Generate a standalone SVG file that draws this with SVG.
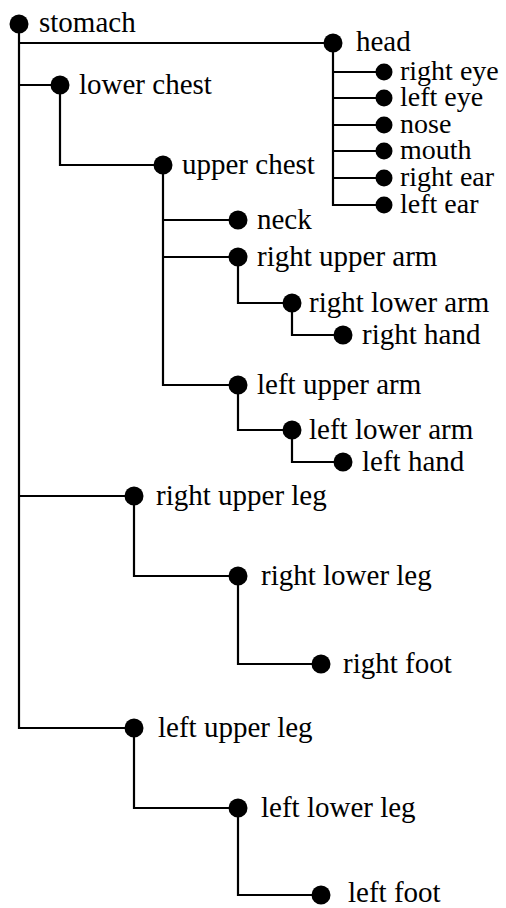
<svg xmlns="http://www.w3.org/2000/svg" width="506" height="908" viewBox="0 0 506 908">
<style>
.e{fill:none;stroke:#000;stroke-width:2.2}
.d{fill:#000}
</style>
<rect width="506" height="908" fill="#fff"/>
<g id="connectors">
<path class="e" d="M19,24 V728 H134"/>
<path class="e" d="M19,43 H333"/>
<path class="e" d="M19,85 H60"/>
<path class="e" d="M19,496 H134"/>
<path class="e" d="M333,43 V205 H384 M333,72 H384 M333,98 H384 M333,125 H384 M333,151 H384 M333,178 H384"/>
<path class="e" d="M60,85 V165 H163"/>
<path class="e" d="M163,165 V385 H238 M163,220 H238 M163,257 H238"/>
<path class="e" d="M238,257 V303 H292 M292,303 V335 H343"/>
<path class="e" d="M238,385 V430 H292 M292,430 V462 H343"/>
<path class="e" d="M134,496 V576 H238 M238,576 V664 H321"/>
<path class="e" d="M134,728 V808 H238 M238,808 V895 H321"/>
</g>
<g id="stomach"><circle class="d" cx="19" cy="24" r="9.5"/><text x="39" y="32" font-family="Liberation Serif" font-size="29">stomach</text></g>
<g id="head"><circle class="d" cx="333" cy="43" r="9.5"/><text x="356" y="51" font-family="Liberation Serif" font-size="29">head</text></g>
<g id="right-eye"><circle class="d" cx="384" cy="72" r="8.5"/><text x="400" y="80" font-family="Liberation Serif" font-size="28">right eye</text></g>
<g id="left-eye"><circle class="d" cx="384" cy="98" r="8.5"/><text x="400" y="106" font-family="Liberation Serif" font-size="28">left eye</text></g>
<g id="nose"><circle class="d" cx="384" cy="125" r="8.5"/><text x="400" y="133" font-family="Liberation Serif" font-size="28">nose</text></g>
<g id="mouth"><circle class="d" cx="384" cy="151" r="8.5"/><text x="400" y="159" font-family="Liberation Serif" font-size="28">mouth</text></g>
<g id="right-ear"><circle class="d" cx="384" cy="178" r="8.5"/><text x="400" y="186" font-family="Liberation Serif" font-size="28">right ear</text></g>
<g id="left-ear"><circle class="d" cx="384" cy="205" r="8.5"/><text x="400" y="213" font-family="Liberation Serif" font-size="28">left ear</text></g>
<g id="lower-chest"><circle class="d" cx="60" cy="85" r="9.5"/><text x="79" y="94" font-family="Liberation Serif" font-size="29">lower chest</text></g>
<g id="upper-chest"><circle class="d" cx="163" cy="165" r="9.5"/><text x="182" y="174" font-family="Liberation Serif" font-size="29">upper chest</text></g>
<g id="neck"><circle class="d" cx="238" cy="220" r="9.5"/><text x="257" y="229" font-family="Liberation Serif" font-size="29">neck</text></g>
<g id="right-upper-arm"><circle class="d" cx="238" cy="257" r="9.5"/><text x="257" y="266" font-family="Liberation Serif" font-size="29">right upper arm</text></g>
<g id="right-lower-arm"><circle class="d" cx="292" cy="303" r="9.5"/><text x="309" y="312" font-family="Liberation Serif" font-size="29">right lower arm</text></g>
<g id="right-hand"><circle class="d" cx="343" cy="335" r="9.5"/><text x="362" y="344" font-family="Liberation Serif" font-size="29">right hand</text></g>
<g id="left-upper-arm"><circle class="d" cx="238" cy="385" r="9.5"/><text x="257" y="394" font-family="Liberation Serif" font-size="29">left upper arm</text></g>
<g id="left-lower-arm"><circle class="d" cx="292" cy="430" r="9.5"/><text x="309" y="439" font-family="Liberation Serif" font-size="29">left lower arm</text></g>
<g id="left-hand"><circle class="d" cx="343" cy="462" r="9.5"/><text x="362" y="471" font-family="Liberation Serif" font-size="29">left hand</text></g>
<g id="right-upper-leg"><circle class="d" cx="134" cy="496" r="9.5"/><text x="156" y="505" font-family="Liberation Serif" font-size="29">right upper leg</text></g>
<g id="right-lower-leg"><circle class="d" cx="238" cy="576" r="9.5"/><text x="261" y="585" font-family="Liberation Serif" font-size="29">right lower leg</text></g>
<g id="right-foot"><circle class="d" cx="321" cy="664" r="9.5"/><text x="343" y="673" font-family="Liberation Serif" font-size="29">right foot</text></g>
<g id="left-upper-leg"><circle class="d" cx="134" cy="728" r="9.5"/><text x="158" y="737" font-family="Liberation Serif" font-size="29">left upper leg</text></g>
<g id="left-lower-leg"><circle class="d" cx="238" cy="808" r="9.5"/><text x="261" y="817" font-family="Liberation Serif" font-size="29">left lower leg</text></g>
<g id="left-foot"><circle class="d" cx="321" cy="895" r="9.5"/><text x="348" y="902" font-family="Liberation Serif" font-size="29">left foot</text></g>
</svg>
